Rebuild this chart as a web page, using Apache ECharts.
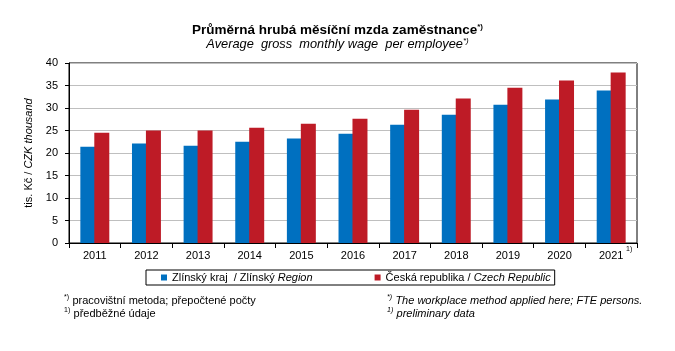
<!DOCTYPE html>
<html>
<head>
<meta charset="utf-8">
<script src="https://cdn.jsdelivr.net/npm/echarts@6/dist/echarts.min.js"></script>
<style>
  html, body { margin: 0; padding: 0; background: #fff; }
  #chart { width: 675px; height: 351px; }
</style>
</head>
<body>
<div id="chart"></div>
<script>
// data
const years = ['2011', '2012', '2013', '2014', '2015', '2016', '2017', '2018', '2019', '2020', '2021'];
const zlinsky = [21.4, 22.1, 21.6, 22.5, 23.2, 24.3, 26.3, 28.5, 30.7, 31.9, 33.9];
const cesko = [24.5, 25.0, 25.0, 25.6, 26.5, 27.6, 29.6, 32.1, 34.5, 36.1, 37.9];
const yTicks = [0, 5, 10, 15, 20, 25, 30, 35, 40];

const FONT = 'Liberation Sans, Arial, sans-serif';

const chart = echarts.init(document.getElementById('chart'));

chart.setOption({
  backgroundColor: '#fff',
  animation: false,
  title: {
    text: '{t|Průměrná hrubá měsíční mzda zaměstnance}{s|*)}',
    subtext: '{t|Average  gross  monthly wage  per employee}{s|*)}',
    left: 'center',
    top: 18,
    itemGap: 0,
    textStyle: {
      rich: {
        t: { fontFamily: FONT, fontWeight: 'bold', fontSize: 13.5, color: '#000' },
        s: { fontFamily: FONT, fontWeight: 'bold', fontSize: 8, color: '#000', verticalAlign: 'top', padding: [0, 0, 6, 0] }
      }
    },
    subtextStyle: {
      rich: {
        t: { fontFamily: FONT, fontStyle: 'italic', fontSize: 12.8, color: '#000' },
        s: { fontFamily: FONT, fontStyle: 'italic', fontSize: 8, color: '#000', padding: [0, 0, 6, 0] }
      }
    }
  },
  legend: {
    left: 146,
    top: 270,
    orient: 'horizontal',
    padding: [2, 4, 2, 15],
    itemGap: 62,
    itemWidth: 6,
    itemHeight: 6,
    icon: 'rect',
    borderColor: '#000',
    borderWidth: 1,
    data: ['zl', 'cr'],
    formatter: function (name) {
      return name === 'zl'
        ? '{n|Zlínský kraj  / Zlínský }{i|Region}'
        : '{n|Česká republika / }{i|Czech Republic}';
    },
    textStyle: {
      fontSize: 11,
      rich: {
        n: { fontFamily: FONT, fontSize: 11, color: '#000' },
        i: { fontFamily: FONT, fontSize: 11, fontStyle: 'italic', color: '#000' }
      }
    }
  },
  grid: {
    left: 69,
    right: 38,
    top: 63,
    bottom: 108,
    show: true,
    borderColor: '#000',
    borderWidth: 1,
    containLabel: false
  },
  xAxis: {
    type: 'category',
    data: years,
    axisLine: { lineStyle: { color: '#000', width: 1 } },
    axisTick: { show: true, length: 5, lineStyle: { color: '#000' } },
    axisLabel: { color: '#000', fontFamily: FONT, fontSize: 11, margin: 7 }
  },
  yAxis: {
    type: 'value',
    min: 0,
    max: 40,
    interval: 5,
    name: '{n|tis. Kč / }{i|CZK thousand}',
    nameLocation: 'middle',
    nameGap: 31,
    nameRotate: 90,
    nameTextStyle: {
      rich: {
        n: { fontFamily: FONT, fontSize: 11, color: '#000' },
        i: { fontFamily: FONT, fontSize: 11, fontStyle: 'italic', color: '#000' }
      }
    },
    axisLine: { show: true, lineStyle: { color: '#000', width: 1 } },
    axisTick: { show: true, length: 4, lineStyle: { color: '#000' } },
    axisLabel: {
      color: '#000', fontFamily: FONT, fontSize: 11, margin: 11,
      formatter: function (v) { return yTicks.indexOf(v) >= 0 ? String(v) : ''; }
    },
    splitLine: { lineStyle: { color: '#bfbfbf', width: 1 } }
  },
  series: [
    {
      name: 'zl',
      type: 'bar',
      data: zlinsky,
      barWidth: 15,
      barGap: '-7%',
      itemStyle: { color: '#0070c0' }
    },
    {
      name: 'cr',
      type: 'bar',
      data: cesko,
      barWidth: 15,
      itemStyle: { color: '#be1b26' }
    }
  ],
  graphic: [
    {
      type: 'text', left: 626, top: 246,
      style: { text: '1)', fontFamily: FONT, fontSize: 7, fill: '#000' }
    },
    {
      type: 'text', left: 64, top: 294,
      style: {
        text: '{s|*)} {n|pracovištní metoda; přepočtené počty}\n{s|1)} {n|předběžné údaje}',
        lineHeight: 13,
        rich: {
          s: { fontFamily: FONT, fontSize: 7, fill: '#000', verticalAlign: 'top' },
          n: { fontFamily: FONT, fontSize: 11, fill: '#000' }
        }
      }
    },
    {
      type: 'text', left: 387, top: 294,
      style: {
        text: '{s|*)} {n|The workplace method applied here; FTE persons.}\n{s|1)} {n|preliminary data}',
        lineHeight: 13,
        rich: {
          s: { fontFamily: FONT, fontSize: 7, fill: '#000', fontStyle: 'italic', verticalAlign: 'top' },
          n: { fontFamily: FONT, fontSize: 11, fill: '#000', fontStyle: 'italic' }
        }
      }
    }
  ]
});
</script>
</body>
</html>
